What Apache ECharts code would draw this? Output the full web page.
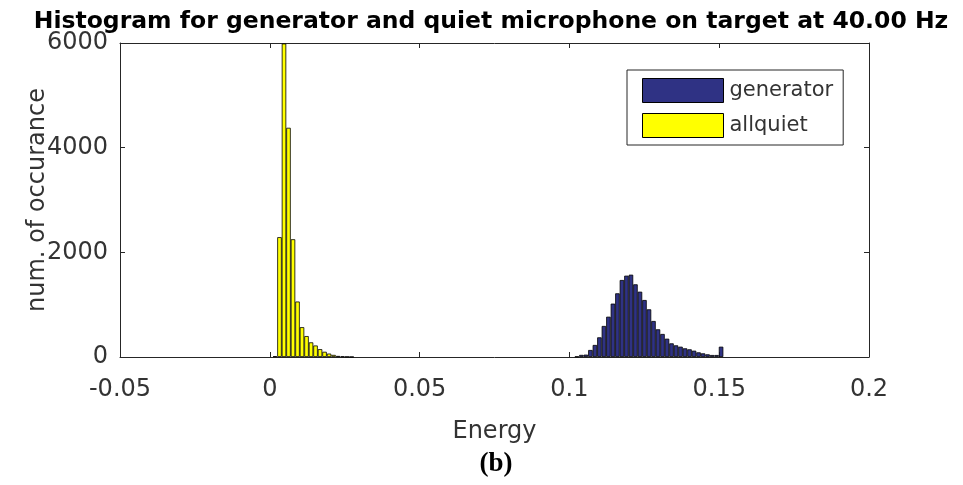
<!DOCTYPE html>
<html>
<head>
<meta charset="utf-8">
<script src="https://cdn.jsdelivr.net/npm/echarts@6/dist/echarts.min.js"></script>
<style>
  html, body { margin: 0; padding: 0; background: #fff; }
  #chart { width: 963px; height: 485px; }
</style>
</head>
<body>
<div id="chart"></div>
<script>
// histogram bins (shared by both series)
const binStart = 0.00173
const binWidth = 0.001504

// allquiet counts, starting at bin 0
const allquietFirstBin = 0
const allquietCounts = [15, 2290, 5990, 4380, 2250, 1060, 570, 400, 280, 220, 150, 100, 65, 40, 20, 12, 6, 3]

// generator counts, starting at bin 67
const generatorFirstBin = 67
const generatorCounts = [10, 40, 45, 134, 230, 376, 593, 770, 1020, 1217, 1471, 1554, 1573, 1389, 1248,
  1089, 911, 688, 529, 440, 350, 261, 223, 197, 166, 147, 121, 89, 70, 51, 38, 38, 197]

const xTicks = [-0.05, 0, 0.05, 0.1, 0.15, 0.2]
const yTicks = [0, 2000, 4000, 6000]

const textColor = '#333'
const axisColor = '#262626'

function toPairs(firstBin, counts) {
  return counts.map((c, i) => [binStart + (firstBin + i) * binWidth, c])
}

const chart = echarts.init(document.getElementById('chart'))

const xBase = {
  type: 'value',
  min: xTicks[0],
  max: xTicks[xTicks.length - 1],
  interval: xTicks[1] - xTicks[0],
  axisLine: { onZero: false, lineStyle: { color: axisColor, width: 1 } },
  axisTick: { inside: true, length: 5, lineStyle: { color: axisColor } },
  splitLine: { show: false }
}
const yBase = {
  type: 'value',
  min: yTicks[0],
  max: yTicks[yTicks.length - 1],
  interval: yTicks[1] - yTicks[0],
  axisLine: { show: true, onZero: false, lineStyle: { color: axisColor, width: 1 } },
  axisTick: { show: true, inside: true, length: 5, lineStyle: { color: axisColor } },
  splitLine: { show: false }
}

chart.setOption({
  animation: false,
  title: [{
    text: 'Histogram for generator and quiet microphone on target at 40.00 Hz',
    left: 486, top: 5, textAlign: 'center',
    textStyle: { fontFamily: 'DejaVu Sans', fontWeight: 'bold', fontSize: 23.5, color: '#000' }
  }, {
    text: '(b)',
    left: 491, top: 446, textAlign: 'center',
    textStyle: { fontFamily: 'Liberation Serif', fontWeight: 'bold', fontSize: 27, color: '#000' }
  }],
  grid: { left: 120, right: 94, top: 43, bottom: 128 },
  legend: {
    orient: 'vertical',
    left: 627, top: 70,
    padding: [8, 10, 7, 15],
    itemGap: 10,
    itemWidth: 81, itemHeight: 24,
    borderColor: axisColor, borderWidth: 1,
    icon: 'rect',
    itemStyle: { borderColor: '#000', borderWidth: 1 },
    textStyle: { fontFamily: 'DejaVu Sans', fontSize: 21, color: textColor, padding: [0, 0, 0, 1] },
    data: ['generator', 'allquiet']
  },
  xAxis: [{
    ...xBase,
    position: 'bottom',
    name: 'Energy',
    nameLocation: 'middle',
    nameGap: 63,
    nameTextStyle: { fontFamily: 'DejaVu Sans', fontSize: 24, color: textColor },
    axisLabel: {
      fontFamily: 'DejaVu Sans', fontSize: 24, color: textColor, margin: 21,
      formatter: v => String(parseFloat(v.toFixed(2)))
    }
  }, {
    ...xBase,
    position: 'top',
    axisLabel: { show: false }
  }],
  yAxis: [{
    ...yBase,
    position: 'left',
    name: 'num. of occurance',
    nameLocation: 'middle',
    nameMoveOverlap: false,
    nameGap: 70,
    nameTextStyle: { fontFamily: 'DejaVu Sans', fontSize: 24, color: textColor },
    axisLabel: {
      fontFamily: 'DejaVu Sans', fontSize: 24, color: textColor, margin: 12,
      formatter: v => String(v)
    }
  }, {
    ...yBase,
    position: 'right',
    axisLabel: { show: false }
  }],
  series: [{
    name: 'generator',
    type: 'bar',
    xAxisIndex: 0, yAxisIndex: 0,
    barWidth: 4.5,
    barGap: '-100%',
    itemStyle: { color: '#2f3284', borderColor: '#000', borderWidth: 0.8 },
    data: toPairs(generatorFirstBin, generatorCounts)
  }, {
    name: 'allquiet',
    type: 'bar',
    xAxisIndex: 0, yAxisIndex: 0,
    barWidth: 4.5,
    barGap: '-100%',
    itemStyle: { color: '#ffff00', borderColor: '#000', borderWidth: 0.8 },
    data: toPairs(allquietFirstBin, allquietCounts)
  }]
})
</script>
</body>
</html>
